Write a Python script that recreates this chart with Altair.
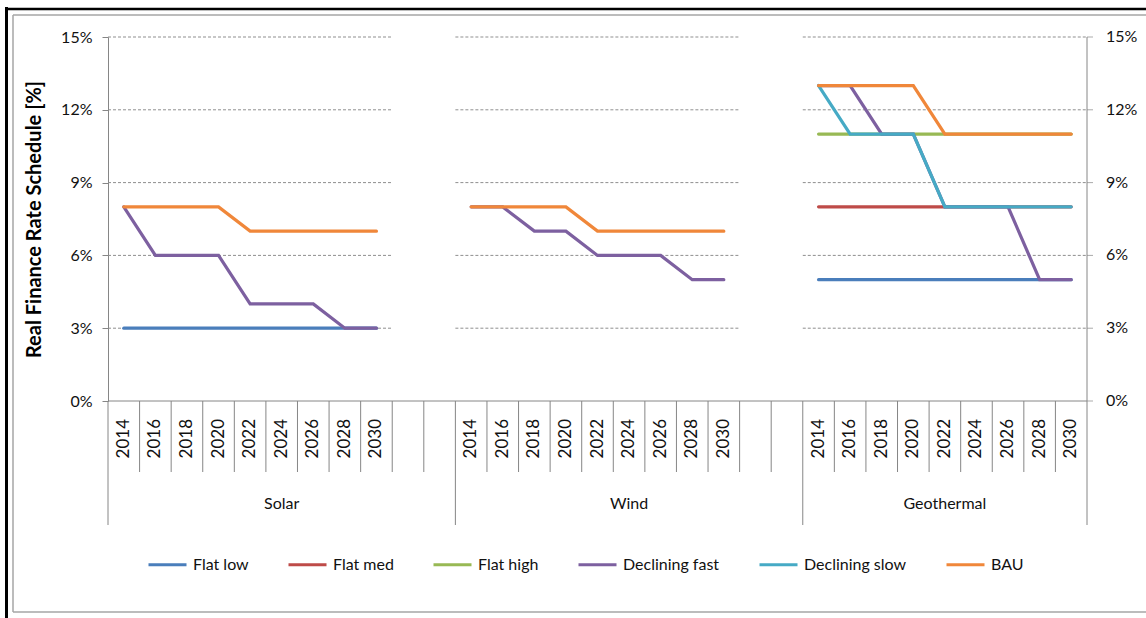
import altair as alt
import pandas as pd

# ---------------- data ----------------
years = [2014, 2016, 2018, 2020, 2022, 2024, 2026, 2028, 2030]
groups = ["Solar", "Wind", "Geothermal"]
series = ["Flat low", "Flat med", "Flat high", "Declining fast", "Declining slow", "BAU"]
colors = ["#4A7EBB", "#BE4B48", "#98B954", "#7D60A0", "#46AAC5", "#F0873A"]

solar_flat_low = [3, 3, 3, 3, 3, 3, 3, 3, 3]
solar_declining_fast = [8, 6, 6, 6, 4, 4, 4, 3, 3]
solar_bau = [8, 8, 8, 8, 7, 7, 7, 7, 7]

wind_declining_fast = [8, 8, 7, 7, 6, 6, 6, 5, 5]
wind_bau = [8, 8, 8, 8, 7, 7, 7, 7, 7]

geo_flat_low = [5, 5, 5, 5, 5, 5, 5, 5, 5]
geo_flat_med = [8, 8, 8, 8, 8, 8, 8, 8, 8]
geo_flat_high = [11, 11, 11, 11, 11, 11, 11, 11, 11]
geo_declining_fast = [13, 13, 11, 11, 8, 8, 8, 5, 5]
geo_declining_slow = [13, 11, 11, 11, 8, 8, 8, 8, 8]
geo_bau = [13, 13, 13, 13, 11, 11, 11, 11, 11]

y_ticks = [0, 3, 6, 9, 12, 15]

table = {
    "Solar": {"Flat low": solar_flat_low, "Declining fast": solar_declining_fast, "BAU": solar_bau},
    "Wind": {"Declining fast": wind_declining_fast, "BAU": wind_bau},
    "Geothermal": {"Flat low": geo_flat_low, "Flat med": geo_flat_med, "Flat high": geo_flat_high,
                   "Declining fast": geo_declining_fast, "Declining slow": geo_declining_slow,
                   "BAU": geo_bau},
}

# ---------------- category layout (Excel style: 9 year slots + 2 empty slots) ----------------
slots = [len(years) + 2, len(years) + 2, len(years)]
offsets = [sum(slots[:i]) for i in range(len(slots))]
total = sum(slots)

rows = []
for s in series:
    for gi, g in enumerate(groups):
        vals = table[g].get(s)
        if vals is None:
            continue
        for j, (yr, v) in enumerate(zip(years, vals)):
            rows.append({"series": s, "group": g, "year": yr, "pos": offsets[gi] + j + 0.5, "value": v})
lines_df = pd.DataFrame(rows)

grid_df = pd.DataFrame([{"start": offsets[gi], "end": offsets[gi] + len(years), "v": v}
                        for gi in range(len(groups)) for v in y_ticks[1:]])
cells_df = pd.DataFrame([{"b": b, "major": (b in offsets) or (b == total)} for b in range(total + 1)])
base_df = pd.DataFrame([{"start": 0, "end": total, "v": 0}])
raxis_df = pd.DataFrame([{"x": total, "v": v, "label": f"{v}%"} for v in y_ticks])
year_lab_df = pd.DataFrame([{"pos": offsets[gi] + j + 0.5, "label": str(yr)}
                            for gi in range(len(groups)) for j, yr in enumerate(years)])
group_lab_df = pd.DataFrame([{"pos": offsets[gi] + slots[gi] / 2, "label": g} for gi, g in enumerate(groups)])

FONT = "Lato"
W, H = 979, 364
xs = alt.Scale(domain=[0, total], nice=False, zero=False)
ys = alt.Scale(domain=[0, 15], nice=False, zero=True)
GRAY = "#868686"

y_axis = alt.Axis(
    orient="left", values=y_ticks, labelExpr="datum.value + '%'",
    title="Real Finance Rate Schedule [%]", grid=False,
    domainColor=GRAY, tickColor=GRAY, tickSize=6, labelPadding=10, labelFontSize=16,
    labelFont=FONT, labelColor="#111", titleFont=FONT, titleFontSize=20,
    titleFontWeight="bold", titleColor="#000", titlePadding=16)


def Y(field):
    return alt.Y(field, scale=ys, axis=y_axis)


grid = alt.Chart(grid_df).mark_rule(color="#8f8f8f", strokeWidth=1, strokeDash=[3, 2]).encode(
    x=alt.X("start:Q", scale=xs, axis=None),
    x2="end:Q",
    y=Y("v:Q"),
)

baseline = alt.Chart(base_df).mark_rule(color=GRAY, strokeWidth=1).encode(
    x=alt.X("start:Q", scale=xs, axis=None), x2="end:Q", y=Y("v:Q"))

# right-hand y axis (mirror of the left one)
r_domain = alt.Chart(base_df).mark_rule(color=GRAY, strokeWidth=1).encode(
    x=alt.X("end:Q", scale=xs, axis=None), y=alt.value(0), y2=alt.value(H))
r_ticks = alt.Chart(raxis_df).mark_tick(color=GRAY, thickness=1, size=6, orient="horizontal",
                                         xOffset=3).encode(
    x=alt.X("x:Q", scale=xs, axis=None), y=Y("v:Q"))
r_labels = alt.Chart(raxis_df).mark_text(align="left", baseline="middle", fontSize=16, font=FONT,
                                         color="#111", dx=19).encode(
    x=alt.X("x:Q", scale=xs, axis=None), y=Y("v:Q"), text="label:N")

minor = alt.Chart(cells_df).transform_filter("!datum.major").mark_rule(color=GRAY, strokeWidth=1).encode(
    x=alt.X("b:Q", scale=xs, axis=None), y=alt.value(H), y2=alt.value(435))
major = alt.Chart(cells_df).transform_filter("datum.major").mark_rule(color=GRAY, strokeWidth=1).encode(
    x=alt.X("b:Q", scale=xs, axis=None), y=alt.value(H), y2=alt.value(488))

year_labels = alt.Chart(year_lab_df).mark_text(
    angle=270, align="right", baseline="middle", fontSize=17, font=FONT, color="#111").encode(
    x=alt.X("pos:Q", scale=xs, axis=None), y=alt.value(H + 18), text="label:N")

group_labels = alt.Chart(group_lab_df).mark_text(
    align="center", baseline="middle", fontSize=16, font=FONT, color="#111").encode(
    x=alt.X("pos:Q", scale=xs, axis=None), y=alt.value(467), text="label:N")

lines = alt.Chart(lines_df).mark_line(strokeWidth=3.2, strokeCap="round").encode(
    x=alt.X("pos:Q", scale=xs, axis=None),
    y=Y("value:Q"),
    color=alt.Color("series:N", scale=alt.Scale(domain=series, range=colors), legend=alt.Legend(
        orient="none", legendX=39, legendY=507, direction="horizontal", columns=6, title=None,
        symbolType="stroke", symbolSize=1444, symbolStrokeWidth=3, labelFontSize=16,
        labelFont=FONT, labelColor="#111", columnPadding=33, labelOffset=5, padding=0)),
    detail="group:N",
    order=alt.Order("pos:Q"),
)

frame_black_v = alt.Chart(base_df).mark_rule(color="#000", strokeWidth=3).encode(
    x=alt.value(-101.5), y=alt.value(-30), y2=alt.value(581))
frame_black_h = alt.Chart(base_df).mark_rule(color="#000", strokeWidth=2.5).encode(
    x=alt.value(-103), x2=alt.value(1038), y=alt.value(-28))
frame_gray_v = alt.Chart(base_df).mark_rule(color="#a6a6a6", strokeWidth=1.5).encode(
    x=alt.value(-95), y=alt.value(-22), y2=alt.value(575))
frame_gray_top = alt.Chart(base_df).mark_rule(color="#a6a6a6", strokeWidth=1.5).encode(
    x=alt.value(-95), x2=alt.value(1038), y=alt.value(-22))
frame_gray_bot = alt.Chart(base_df).mark_rule(color="#a6a6a6", strokeWidth=1.5).encode(
    x=alt.value(-95), x2=alt.value(1038), y=alt.value(575))

chart = alt.layer(
    frame_black_v, frame_black_h, frame_gray_v, frame_gray_top, frame_gray_bot,
    grid, baseline, r_domain, r_ticks, r_labels, minor, major, year_labels, group_labels, lines,
).properties(
    width=W, height=H,
    autosize=alt.AutoSizeParams(type="none"),
    padding={"left": 108, "top": 37, "right": 59, "bottom": 217},
    background="white",
).configure_view(stroke=None)

chart.save("out.html", embed_options={"renderer": "svg", "actions": False})
